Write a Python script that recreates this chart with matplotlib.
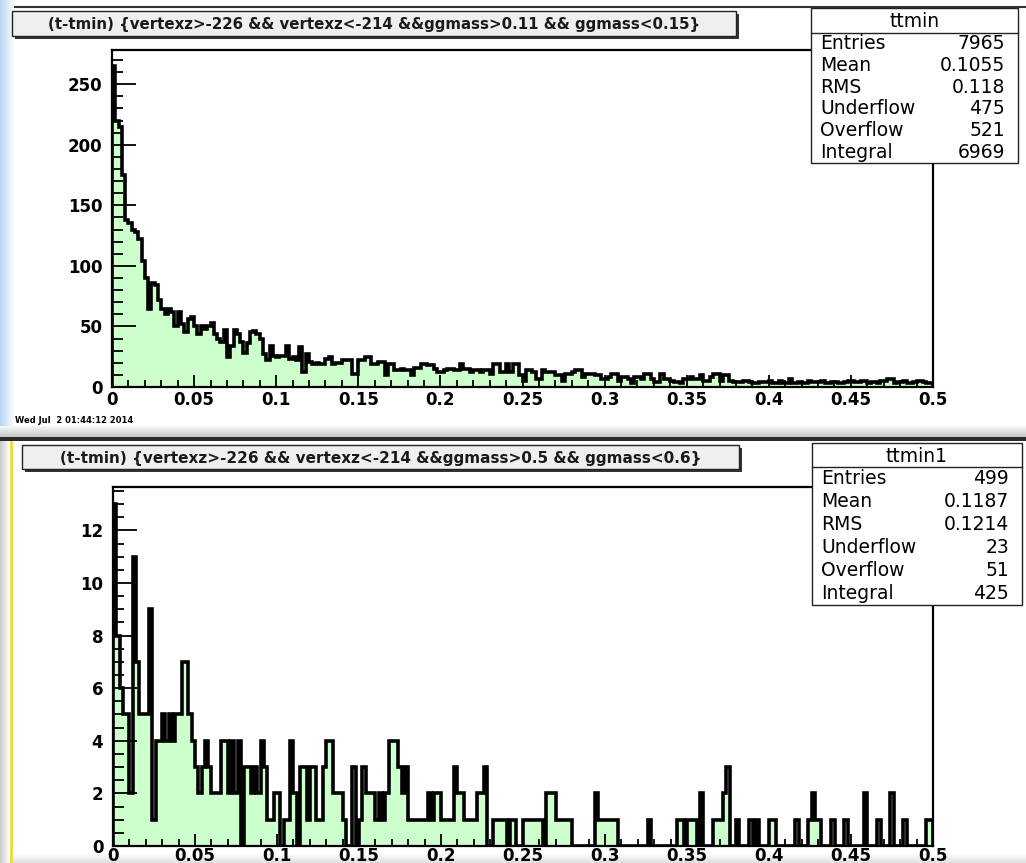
import matplotlib.pyplot as plt
import numpy as np
from matplotlib.patches import Rectangle
from matplotlib.ticker import MultipleLocator

plt.rcParams['font.family'] = ['DejaVu Sans']

# canvas size in pixels
W, H = 1026, 863

# histogram binning (same for both pads)
x_lo, x_hi, n_bins = 0.0, 0.5, 250

# ttmin: ggmass 0.11-0.15, bin contents
ttmin_counts = [
    265, 220, 215, 175, 138, 135, 130, 128, 122, 104,
    90, 64, 86, 84, 72, 64, 60, 64, 62, 50,
    62, 52, 45, 56, 58, 50, 44, 50, 48, 50,
    53, 44, 40, 37, 47, 25, 34, 47, 44, 37,
    28, 36, 45, 46, 44, 40, 27, 22, 34, 26,
    25, 26, 26, 34, 23, 25, 22, 33, 12, 27,
    21, 19, 20, 19, 19, 23, 25, 19, 20, 20,
    22, 22, 22, 11, 11, 22, 22, 25, 25, 19,
    19, 21, 21, 10, 19, 19, 14, 14, 15, 14,
    14, 10, 16, 16, 19, 19, 18, 18, 15, 12,
    12, 14, 15, 15, 14, 14, 19, 15, 15, 12,
    14, 14, 12, 14, 14, 11, 19, 19, 12, 12,
    19, 12, 19, 19, 10, 5, 14, 14, 12, 7,
    7, 14, 12, 12, 12, 10, 10, 5, 11, 11,
    12, 14, 14, 8, 11, 11, 11, 10, 10, 7,
    7, 8, 11, 11, 5, 8, 8, 7, 3, 8,
    8, 7, 11, 11, 7, 4, 4, 11, 7, 7,
    5, 4, 4, 3, 7, 7, 8, 7, 7, 10,
    5, 5, 8, 11, 11, 5, 10, 10, 5, 4,
    4, 4, 5, 5, 4, 3, 3, 4, 4, 4,
    5, 3, 3, 5, 3, 3, 7, 3, 3, 4,
    3, 3, 5, 4, 4, 4, 5, 3, 3, 4,
    4, 3, 3, 4, 5, 5, 4, 4, 5, 5,
    3, 4, 4, 3, 5, 5, 7, 7, 3, 4,
    4, 5, 3, 3, 4, 5, 5, 4, 3, 3,
]

# ttmin1: ggmass 0.5-0.6
ttmin1_counts = [
    13, 8, 6, 5, 5, 2, 11, 7, 5, 5,
    5, 9, 1, 4, 4, 5, 4, 5, 4, 5,
    5, 7, 7, 5, 4, 3, 2, 3, 4, 3,
    2, 2, 2, 4, 4, 2, 4, 2, 4, 0,
    3, 3, 2, 3, 2, 4, 3, 1, 1, 2,
    2, 0, 1, 1, 4, 2, 0, 3, 3, 1,
    3, 3, 1, 1, 3, 4, 4, 2, 2, 2,
    1, 0, 0, 3, 0, 1, 3, 2, 2, 2,
    1, 2, 1, 2, 4, 4, 4, 3, 2, 3,
    1, 1, 1, 1, 1, 1, 2, 1, 2, 2,
    1, 1, 1, 1, 3, 2, 2, 1, 1, 1,
    1, 2, 2, 3, 0, 0, 1, 1, 1, 1,
    0, 1, 1, 0, 0, 1, 1, 1, 1, 1,
    1, 0, 2, 2, 2, 1, 1, 1, 1, 1,
    0, 0, 0, 0, 0, 0, 0, 2, 1, 1,
    1, 1, 1, 1, 0, 0, 0, 0, 0, 0,
    0, 0, 0, 1, 0, 0, 0, 0, 0, 0,
    0, 0, 1, 1, 0, 1, 1, 1, 0, 2,
    0, 0, 0, 1, 1, 1, 2, 3, 0, 0,
    1, 0, 0, 0, 1, 0, 1, 0, 0, 0,
    1, 1, 0, 0, 0, 0, 0, 0, 1, 0,
    0, 0, 1, 2, 1, 1, 0, 0, 0, 1,
    0, 0, 0, 1, 0, 0, 0, 0, 0, 2,
    0, 0, 0, 1, 0, 0, 0, 2, 0, 0,
    0, 1, 0, 0, 0, 0, 0, 0, 1, 1,
]

ttmin_stats = [('Entries', '7965'), ('Mean', '0.1055'), ('RMS', '0.118'),
               ('Underflow', '475'), ('Overflow', '521'), ('Integral', '6969')]
ttmin1_stats = [('Entries', '499'), ('Mean', '0.1187'), ('RMS', '0.1214'),
                ('Underflow', '23'), ('Overflow', '51'), ('Integral', '425')]

title_top = '(t-tmin) {vertexz>-226 && vertexz<-214 &&ggmass>0.11 && ggmass<0.15}'
title_bot = '(t-tmin) {vertexz>-226 && vertexz<-214 &&ggmass>0.5 && ggmass<0.6}'
stamp = 'Wed Jul  2 01:44:12 2014'

x_ticks = [0, 0.05, 0.1, 0.15, 0.2, 0.25, 0.3, 0.35, 0.4, 0.45, 0.5]
x_tick_labels = ['0', '0.05', '0.1', '0.15', '0.2', '0.25', '0.3', '0.35', '0.4', '0.45', '0.5']

fill_green = '#ccffcc'


def px_axes(x0, y0, x1, y1, **kw):
    # axes placed with pixel coords measured from top-left
    return fig.add_axes([x0 / W, 1 - y1 / H, (x1 - x0) / W, (y1 - y0) / H], **kw)


fig = plt.figure(figsize=(W / 100, H / 100), dpi=100)

# background layer (window chrome, pad borders)
bg = px_axes(0, 0, W, H, zorder=0)
bg.set_xlim(0, W)
bg.set_ylim(H, 0)
bg.axis('off')

# light blue window edge on the left of the upper pad
grad = np.linspace(0, 1, 30)
left_rgb = np.array([0.72, 0.84, 0.95])
strip = left_rgb[None, :] * (1 - grad[:, None]) + grad[:, None]
bg.imshow(strip[None, :, :], extent=(0, 15, 430, 0), aspect='auto', zorder=0)
# grey strip on the left of the lower pad
grey_rgb = np.array([0.80, 0.80, 0.80])
strip2 = grey_rgb[None, :] * (1 - grad[:, None]) + grad[:, None]
bg.imshow(strip2[None, :, :], extent=(0, 10, H, 441), aspect='auto', zorder=0)
bg.add_patch(Rectangle((10, 441), 3, H - 441, color='#e6e040', lw=0))
# separator between the pads
sep = np.linspace(0.97, 0.78, 12)
bg.imshow(np.repeat(sep[:, None, None], 3, axis=2), extent=(0, W, 437, 426), aspect='auto')
bg.add_patch(Rectangle((0, 437), W, 4, color='#2a2a2a', lw=0))
# bottom grey fade
bot = np.linspace(1.0, 0.88, 10)
bg.imshow(np.repeat(bot[:, None, None], 3, axis=2), extent=(13, W, H, 853), aspect='auto')
# top border of the upper pad
bg.plot([15, W], [7, 7], color='#333333', lw=1.5)

bg.text(15, 420, stamp, fontsize=6, fontweight='bold', va='center', ha='left')


def draw_hist(ax, counts, ymax, ymajor, yminor, xpad):
    edges = np.linspace(x_lo, x_hi, n_bins + 1)
    ax.stairs(counts, edges, fill=True, color=fill_green, lw=0, zorder=1)
    ax.stairs(counts, edges, color='black', lw=2.6, zorder=2,
              joinstyle='miter', capstyle='butt')
    ax.set_xlim(x_lo, x_hi)
    ax.set_ylim(0, ymax)
    ax.set_xticks(x_ticks, labels=x_tick_labels)
    ax.xaxis.set_minor_locator(MultipleLocator(0.01))
    ax.yaxis.set_major_locator(MultipleLocator(ymajor))
    ax.yaxis.set_minor_locator(MultipleLocator(yminor))
    ax.tick_params(axis='y', which='major', direction='in', length=17, width=1.3, pad=7,
                   labelsize=12)
    ax.tick_params(axis='y', which='minor', direction='in', length=8, width=1.3)
    ax.tick_params(axis='x', which='major', direction='in', length=9, width=1.3, pad=xpad,
                   labelsize=12)
    ax.tick_params(axis='x', which='minor', direction='in', length=5, width=1.3)
    for lab in ax.get_xticklabels() + ax.get_yticklabels():
        lab.set_fontweight('bold')
    for s in ax.spines.values():
        s.set_linewidth(1.6)
    ax.set_facecolor('white')


ax_top = px_axes(112, 50, 933, 387, zorder=2)
draw_hist(ax_top, ttmin_counts, max(ttmin_counts) * 1.05, 50, 10, 3)

ax_bot = px_axes(113, 487, 933, 846, zorder=2)
draw_hist(ax_bot, ttmin1_counts, max(ttmin1_counts) * 1.05, 2, 0.5, 0.5)

# overlay layer: title boxes and stat boxes
ov = px_axes(0, 0, W, H, zorder=5)
ov.set_xlim(0, W)
ov.set_ylim(H, 0)
ov.axis('off')
ov.patch.set_alpha(0)


def title_box(x0, y0, x1, y1, text, size):
    ov.add_patch(Rectangle((x0 + 3, y0 + 3), x1 - x0, y1 - y0, color='#333333', lw=0))
    ov.add_patch(Rectangle((x0, y0), x1 - x0, y1 - y0, facecolor='#efefef',
                           edgecolor='#222222', lw=1.0))
    ov.text((x0 + x1) / 2, (y0 + y1) / 2 + 1, text, fontsize=size, fontweight='bold',
            ha='center', va='center', color='#1a1a1a')


def stat_box(x0, y0, x1, y1, head_h, name, rows):
    ov.add_patch(Rectangle((x0, y0), x1 - x0, y1 - y0, facecolor='white',
                           edgecolor='#222222', lw=1.0))
    ov.plot([x0, x1], [y0 + head_h, y0 + head_h], color='#222222', lw=1.0)
    ov.text((x0 + x1) / 2, y0 + head_h / 2 + 1, name, fontsize=13.5,
            ha='center', va='center')
    step = (y1 - y0 - head_h) / len(rows)
    for i, (k, v) in enumerate(rows):
        yy = y0 + head_h + step * (i + 0.5)
        ov.text(x0 + 9, yy, k, fontsize=13.5, ha='left', va='center')
        ov.text(x1 - 13, yy, v, fontsize=13.5, ha='right', va='center')


title_box(12, 11, 736, 36, title_top, 10.8)
title_box(22, 445, 739, 469, title_bot, 11.0)
stat_box(811, 8, 1018, 163, 25, 'ttmin', ttmin_stats)
stat_box(812, 443, 1022, 605, 24, 'ttmin1', ttmin1_stats)

fig.savefig('out.png', dpi=100)
